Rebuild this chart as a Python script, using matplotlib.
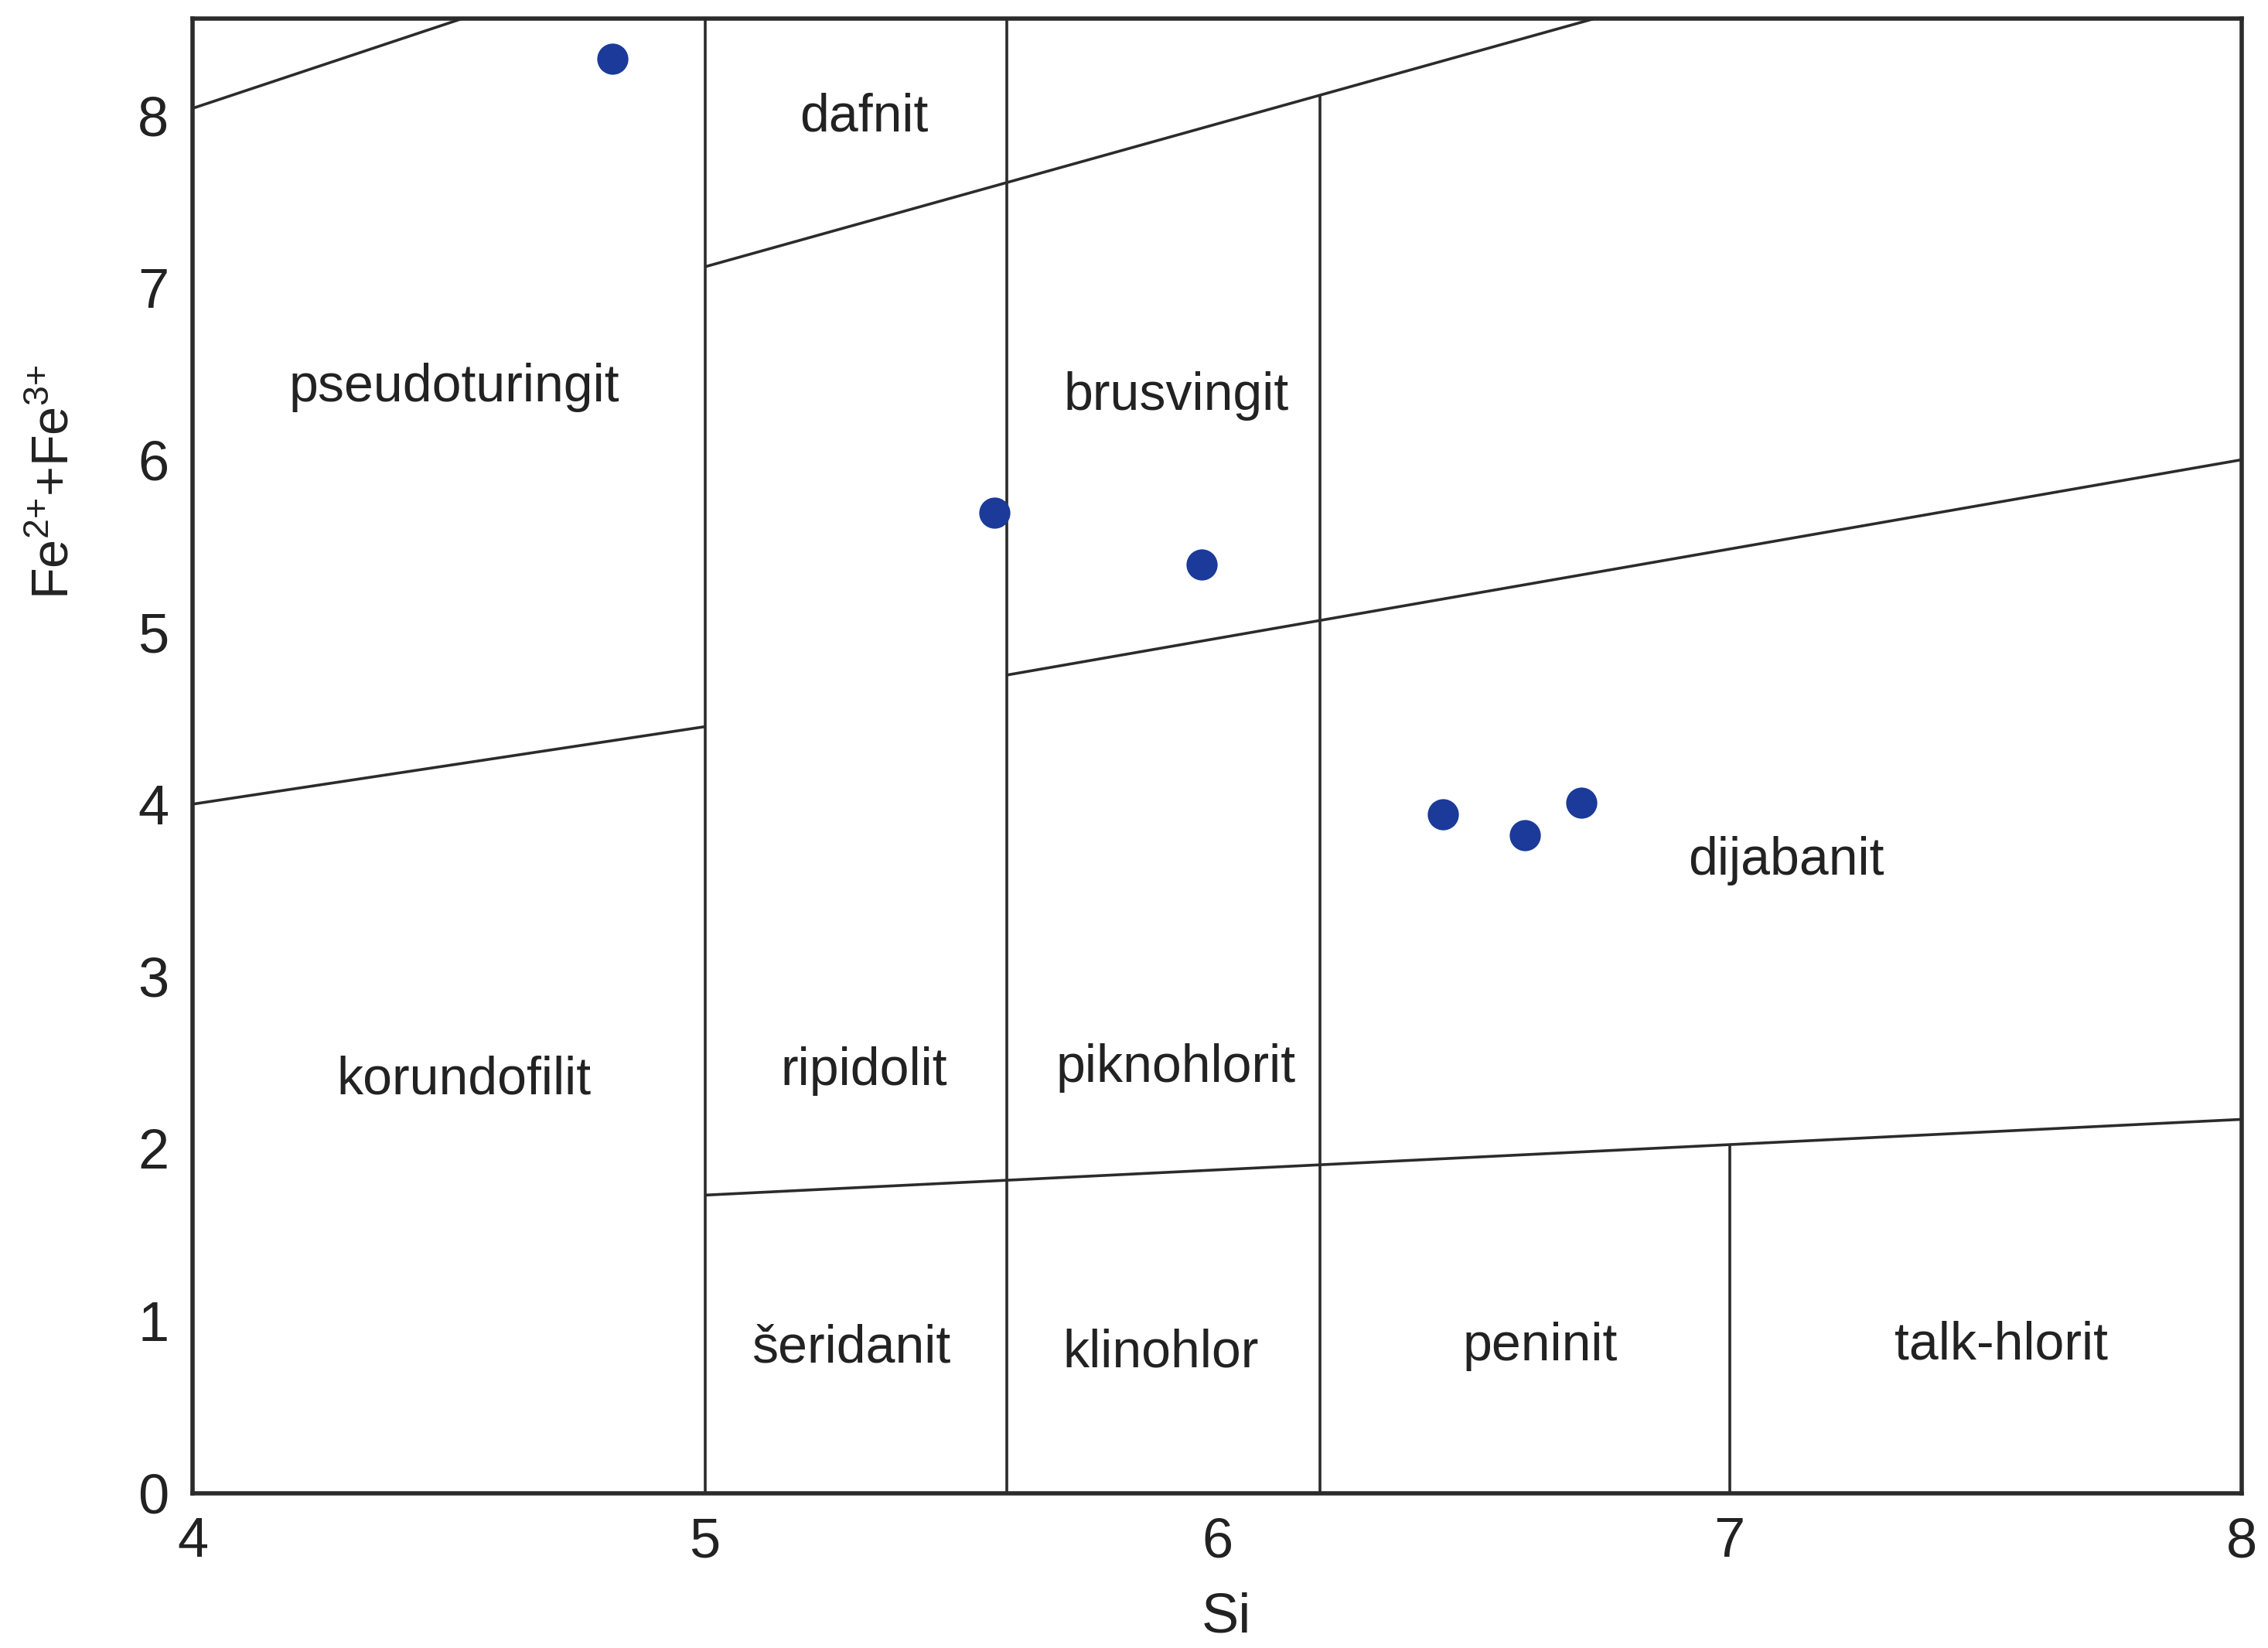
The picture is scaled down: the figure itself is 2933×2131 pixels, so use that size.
# plot.py
# Klasifikacija hlorita: Si prema Fe2+ + Fe3+
import matplotlib.pyplot as plt

########### podaci ###########
# analizirani uzorci
si = [4.82, 5.565, 5.97, 6.44, 6.60, 6.71]
fe = [8.33, 5.69, 5.39, 3.94, 3.82, 4.01]

# granice polja (x0, y0, x1, y1)
granice_x0 = [4.0, 5.0, 4.0, 5.59, 5.0, 5.0, 5.59, 6.2, 7.0]
granice_y0 = [8.04, 7.12, 4.0, 4.75, 1.73, 0.0, 0.0, 0.0, 0.0]
granice_x1 = [5.0, 8.0, 5.0, 8.0, 8.0, 5.0, 5.59, 6.2, 7.0]
granice_y1 = [9.03, 9.61, 4.45, 6.0, 2.17, 9.0, 9.0, 8.12, 2.02]

# nazivi polja i njihova mesta
nazivi = ['dafnit', 'pseudoturingit', 'brusvingit', 'dijabanit', 'korundofilit',
          'ripidolit', 'piknohlorit', 'šeridanit', 'klinohlor', 'peninit', 'talk-hlorit']
naziv_x = [5.31, 4.51, 5.92, 7.11, 4.53, 5.31, 5.92, 5.285, 5.89, 6.63, 7.53]
naziv_y = [7.99, 6.42, 6.37, 3.67, 2.40, 2.45, 2.47, 0.84, 0.815, 0.85, 0.857]

xticks = [4, 5, 6, 7, 8]
yticks = [0, 1, 2, 3, 4, 5, 6, 7, 8]

########### crtanje ###########
plt.rcParams['font.family'] = ['Liberation Sans', 'DejaVu Sans']
plt.rcParams['mathtext.default'] = 'regular'

fig = plt.figure(figsize=(14.665, 10.655), dpi=200)
ax = fig.add_axes([0.0849, 0.094, 0.9036, 0.8946])

linija = '#2b2b2b'
for x0, y0, x1, y1 in zip(granice_x0, granice_y0, granice_x1, granice_y1):
    ax.plot([x0, x1], [y0, y1], color=linija, lw=1.3, solid_capstyle='butt')

ax.plot(si, fe, 'o', color='#1b3a9a', markersize=13.5, zorder=5)

for t, x, y in zip(nazivi, naziv_x, naziv_y):
    ax.text(x, y, t, ha='center', va='center', fontsize=24.5, color='#222222')

ax.set_xlim(4, 8)
ax.set_ylim(0, 8.56)
ax.set_xticks(xticks)
ax.set_yticks(yticks)
ax.tick_params(length=0, labelsize=26, colors='#222222', pad=11)
for s in ax.spines.values():
    s.set_linewidth(2.0)
    s.set_color(linija)

ax.set_xlabel('Si', fontsize=26, color='#222222')
ax.xaxis.set_label_coords(0.5046, -0.0844)
ax.xaxis.label.set_va('center')
ax.set_ylabel('Fe$^{2{+}}$+Fe$^{3{+}}$', fontsize=24, color='#222222')
ax.yaxis.set_label_coords(-0.067, 0.686)
ax.yaxis.label.set_va('center')

fig.savefig('out.png', dpi=200, facecolor='white')
